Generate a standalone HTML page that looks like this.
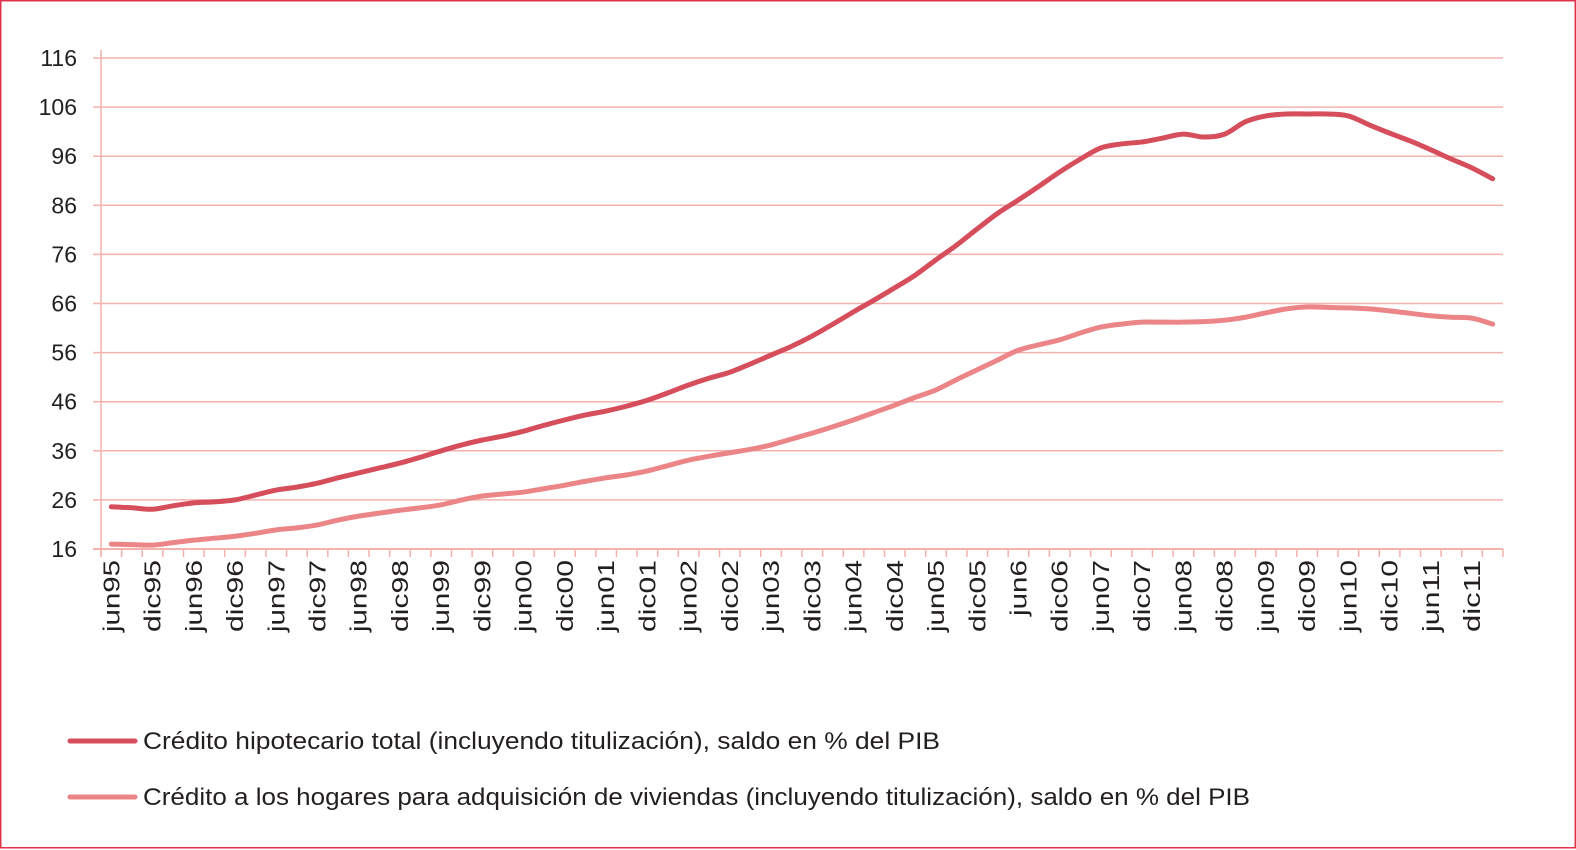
<!DOCTYPE html>
<html><head><meta charset="utf-8"><style>
html,body{margin:0;padding:0;background:#fff}
svg{display:block}
text{font-family:"Liberation Sans",sans-serif;fill:#231f20}
</style></head><body>
<svg id="chart" width="1576" height="850" viewBox="0 0 1576 850" xmlns="http://www.w3.org/2000/svg">
<rect x="0.75" y="0.75" width="1574.5" height="847" fill="#fff" stroke="#e0334a" stroke-width="1.5"/>
<g id="grid"></g>
<g id="yaxis"></g>
<g id="xaxis"></g>
<g id="series"></g>
<g>
<g>
<line x1="70" y1="741" x2="135" y2="741" stroke="#d64d5c" stroke-width="5" stroke-linecap="round"/>
<text x="143" y="749" font-size="24" textLength="797" lengthAdjust="spacingAndGlyphs">Crédito hipotecario total (incluyendo titulización), saldo en % del PIB</text>
</g>
<g>
<line x1="70" y1="797" x2="135" y2="797" stroke="#ec8587" stroke-width="5" stroke-linecap="round"/>
<text x="143" y="805" font-size="24" textLength="1107" lengthAdjust="spacingAndGlyphs">Crédito a los hogares para adquisición de viviendas (incluyendo titulización), saldo en % del PIB</text>
</g>
</g>
</svg>
<script>
const yTicks = [16,26,36,46,56,66,76,86,96,106,116];
const halfLabels = ["jun95","dic95","jun96","dic96","jun97","dic97","jun98","dic98","jun99","dic99","jun00","dic00","jun01","dic01","jun02","dic02","jun03","dic03","jun04","dic04","jun05","dic05","jun6","dic06","jun07","dic07","jun08","dic08","jun09","dic09","jun10","dic10","jun11","dic11"];
const totalCredit = [24.6,24.4,24.1,24.8,25.4,25.6,26.0,27.0,28.0,28.6,29.4,30.5,31.5,32.5,33.5,34.7,36.0,37.2,38.2,39.0,40.0,41.2,42.3,43.3,44.1,45.1,46.3,47.8,49.4,50.8,52.0,53.7,55.5,57.3,59.4,61.8,64.3,66.7,69.2,71.8,74.9,77.9,81.2,84.4,87.1,89.9,92.8,95.4,97.7,98.5,98.9,99.7,100.5,99.9,100.5,103.0,104.2,104.6,104.6,104.6,104.2,102.4,100.7,99.1,97.3,95.4,93.6,91.4];
const householdCredit = [17.0,16.9,16.8,17.3,17.8,18.2,18.6,19.2,19.9,20.3,20.9,21.9,22.7,23.3,23.9,24.4,25.0,26.0,26.8,27.2,27.6,28.3,29.0,29.8,30.5,31.1,31.9,33.0,34.1,34.9,35.6,36.3,37.2,38.4,39.6,40.9,42.3,43.8,45.3,46.9,48.4,50.5,52.5,54.5,56.5,57.6,58.6,60.0,61.2,61.8,62.2,62.2,62.2,62.3,62.6,63.2,64.1,64.9,65.3,65.2,65.1,64.9,64.5,64.0,63.5,63.2,63.0,61.8];

const NS="http://www.w3.org/2000/svg";
const X0=101, X1=1503, Y0=549, Y1=58, VMIN=16, VMAX=116;
const N=totalCredit.length;
const band=(X1-X0)/N;
const xs=i=>X0+band*(i+0.5);
const ys=v=>Y0-(v-VMIN)/(VMAX-VMIN)*(Y0-Y1);
function mk(tag,attrs,parent){const e=document.createElementNS(NS,tag);for(const k in attrs)e.setAttribute(k,attrs[k]);parent.appendChild(e);return e;}
const grid=document.getElementById('grid'),ya=document.getElementById('yaxis'),xa=document.getElementById('xaxis'),se=document.getElementById('series');
yTicks.forEach(t=>{
  const y=ys(t);
  if(t!==VMIN){const l=mk('line',{x1:X0,x2:X1,y1:y,y2:y,stroke:'#f4b2ad','stroke-width':1.5},grid);
  
  }
  const tk=mk('line',{x1:X0-8,x2:X0,y1:y,y2:y,stroke:'#f4b2ad','stroke-width':1.5},ya);
  
  
  const tx=mk('text',{x:77,y:y+8,'text-anchor':'end','font-size':23},ya);
  
  
  tx.textContent=t;
});
const ax=mk('line',{x1:X0,x2:X0,y1:Y1-8,y2:Y0+8,stroke:'#f4b2ad','stroke-width':1.5},ya);


const bx=mk('line',{x1:X0-8,x2:X1,y1:Y0,y2:Y0,stroke:'#f4b2ad','stroke-width':2},xa);


for(let i=0;i<=N;i++){
  const x=X0+band*i;
  const t=mk('line',{x1:x,x2:x,y1:Y0,y2:Y0+8,stroke:'#f4b2ad','stroke-width':1.5},xa);
  
  
}
halfLabels.forEach((lab,k)=>{
  const x=xs(k*2)+8, y=560;
  const L=lab.length===4?56:72;
  const t=mk('text',{x:x,y:y,'text-anchor':'end','font-size':23,textLength:L,lengthAdjust:'spacingAndGlyphs',transform:`rotate(-90 ${x} ${y})`},xa);
  
  
  t.textContent=lab;
});
function path(vals){
  const p=vals.map((v,i)=>[xs(i),ys(v)]);
  let d=`M${p[0][0]},${p[0][1]}`;
  for(let i=0;i<p.length-1;i++){
    const p0=p[Math.max(0,i-1)],p1=p[i],p2=p[i+1],p3=p[Math.min(p.length-1,i+2)];
    const c1=[p1[0]+(p2[0]-p0[0])/6,p1[1]+(p2[1]-p0[1])/6],c2=[p2[0]-(p3[0]-p1[0])/6,p2[1]-(p3[1]-p1[1])/6];
    d+=` C${c1[0]},${c1[1]} ${c2[0]},${c2[1]} ${p2[0]},${p2[1]}`;
  }
  return d;
}
const l2=mk('path',{d:path(householdCredit),fill:'none',stroke:'#ec8587','stroke-width':5,'stroke-linecap':'round','stroke-linejoin':'round'},se);


const l1=mk('path',{d:path(totalCredit),fill:'none',stroke:'#d64d5c','stroke-width':5,'stroke-linecap':'round','stroke-linejoin':'round'},se);


</script>
</body></html>
